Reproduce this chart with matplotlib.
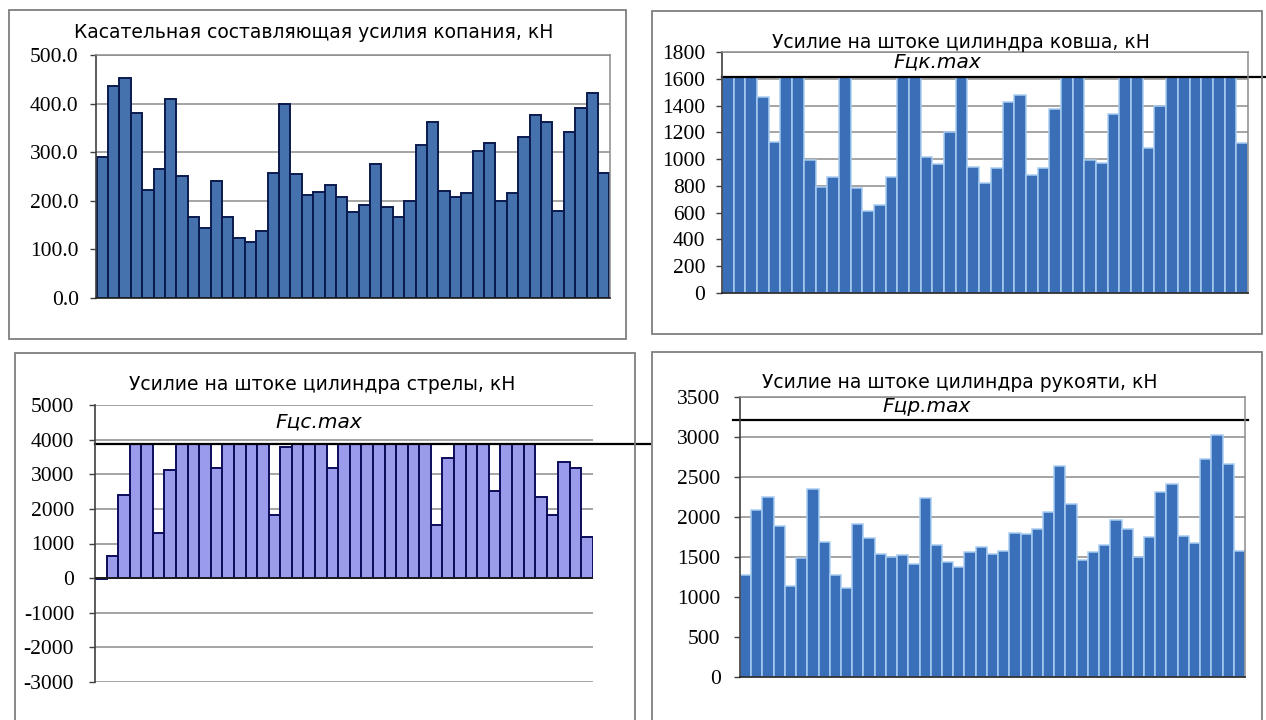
import numpy as np
import matplotlib
matplotlib.use('Agg')
import matplotlib.pyplot as plt
from matplotlib.patches import Rectangle
from matplotlib.ticker import FormatStrFormatter

plt.rcParams['axes.unicode_minus'] = False

W, H = 1266, 720

# Касательная составляющая усилия копания, кН
tangential = [290, 436, 452, 381, 223, 266, 409, 251, 166, 144, 240, 166, 124, 115, 138,
              258, 400, 256, 212, 218, 232, 207, 176, 191, 275, 187, 166, 199, 315, 363,
              220, 207, 216, 302, 318, 199, 216, 332, 376, 363, 179, 341, 390, 421, 258]

# Усилие на штоке цилиндра ковша, кН
bucket = [1610, 1610, 1610, 1465, 1130, 1610, 1610, 993, 794, 864, 1610, 787, 616, 658, 864,
          1610, 1610, 1018, 963, 1200, 1610, 943, 820, 931, 1428, 1478, 882, 931, 1373, 1610,
          1610, 993, 969, 1336, 1610, 1610, 1080, 1396, 1610, 1610, 1610, 1610, 1610, 1610, 1118]
bucket_max = 1610

# Усилие на штоке цилиндра стрелы, кН
boom = [-30, 625, 2400, 3870, 3870, 1300, 3125, 3870, 3870, 3870, 3190, 3870, 3870, 3870, 3870,
        1830, 3800, 3870, 3870, 3870, 3190, 3870, 3870, 3870, 3870, 3870, 3870, 3870, 3870, 1540,
        3480, 3870, 3870, 3870, 2530, 3870, 3870, 3870, 2355, 1830, 3340, 3175, 1200]
boom_max = 3870

# Усилие на штоке цилиндра рукояти, кН
stick = [1271, 2092, 2246, 1892, 1142, 1483, 2354, 1688, 1279, 1117, 1912, 1738, 1542, 1500, 1529,
         1417, 2233, 1654, 1442, 1375, 1562, 1629, 1537, 1571, 1800, 1787, 1850, 2058, 2633, 2162,
         1458, 1562, 1654, 1958, 1850, 1500, 1746, 2308, 2417, 1767, 1675, 2729, 3029, 2667, 1579]
stick_max = 3210

titles = ['Касательная составляющая усилия копания, кН',
          'Усилие на штоке цилиндра ковша, кН',
          'Усилие на штоке цилиндра стрелы, кН',
          'Усилие на штоке цилиндра рукояти, кН']

SANS = 'DejaVu Sans'
SERIF = 'Liberation Serif'
GRID = '#8c8c8c'
TITLE_FS = 13.5
FMAX_FS = 14.5

fig = plt.figure(figsize=(W / 100, H / 100), dpi=100)
fig.patch.set_facecolor('white')


def px_axes(l, t, r, b):
    return fig.add_axes([l / W, 1 - b / H, (r - l) / W, (b - t) / H])


def frame(l, t, r, b):
    fig.patches.append(Rectangle((l / W, 1 - b / H), (r - l) / W, (b - t) / H,
                                 transform=fig.transFigure, fill=False,
                                 edgecolor='#7f7f7f', linewidth=1.3))


def style(ax, ticks, fmt, pad, border=True):
    ax.set_yticks(ticks)
    ax.yaxis.set_major_formatter(FormatStrFormatter(fmt))
    ax.set_ylim(ticks[0], ticks[-1])
    ax.set_xticks([])
    ax.grid(axis='y', color=GRID, linewidth=1.1)
    ax.set_axisbelow(True)
    ax.tick_params(axis='y', direction='out', length=4, width=1, color='#404040', pad=pad)
    for lab in ax.get_yticklabels():
        lab.set_fontfamily(SERIF)
        lab.set_fontsize(15.5)
    ax.spines['left'].set_color('#404040')
    ax.spines['left'].set_linewidth(1.2)
    ax.spines['bottom'].set_color('#202020')
    ax.spines['bottom'].set_linewidth(1.2)
    for s in ['top', 'right']:
        ax.spines[s].set_color(GRID)
        ax.spines[s].set_linewidth(1.1)
        ax.spines[s].set_visible(border)


# panel frames
frame(9, 10, 626, 339)
frame(652, 11, 1262, 334)
frame(15, 353, 635, 730)
frame(652, 352, 1262, 730)

# 1 - tangential force
ax1 = px_axes(96, 55, 610, 298)
x1 = np.arange(1, len(tangential) + 1)
ax1.bar(x1, tangential, width=1.0, color='#4571ad', edgecolor='#0b1a4e', linewidth=1.4)
ax1.set_xlim(0.45, len(tangential) + 0.55)
style(ax1, [0, 100, 200, 300, 400, 500], '%.1f', 8.5)
fig.text(314 / W, 1 - 33 / H, titles[0], ha='center', va='center', fontsize=TITLE_FS, family=SANS)

# 2 - bucket cylinder
ax2 = px_axes(722, 52, 1248, 293)
x2 = np.arange(1, len(bucket) + 1)
ax2.bar(x2, bucket, width=1.0, color='#3a6fb8', edgecolor='#a9cdf2', linewidth=1.1)
ax2.set_xlim(0.5, len(bucket) + 0.5)
style(ax2, list(range(0, 1801, 200)), '%d', 8)
ax2.axhline(bucket_max, xmin=0, xmax=1.035, color='black', linewidth=1.6, clip_on=False)
ax2.text(0.41, 1725, 'Fцк.max', transform=ax2.get_yaxis_transform(), ha='center', va='center',
         fontsize=FMAX_FS, style='italic', family=SANS)
fig.text(961 / W, 1 - 42 / H, titles[1], ha='center', va='center', fontsize=TITLE_FS, family=SANS)

# 3 - boom cylinder
ax3 = px_axes(95, 405, 593, 682)
x3 = np.arange(1, len(boom) + 1)
ax3.bar(x3, boom, width=1.0, color='#9b9bec', edgecolor='#0c0c5a', linewidth=1.4)
ax3.set_xlim(0.5, len(boom) + 0.5)
style(ax3, list(range(-3000, 5001, 1000)), '%d', 11, border=False)
ax3.spines['bottom'].set_visible(False)
ax3.axhline(0, color='#202020', linewidth=1.3, zorder=3)
ax3.axhline(boom_max, xmin=0, xmax=1.115, color='black', linewidth=1.6, clip_on=False)
ax3.text(0.45, 4520, 'Fцс.max', transform=ax3.get_yaxis_transform(), ha='center', va='center',
         fontsize=FMAX_FS, style='italic', family=SANS)
fig.text(322 / W, 1 - 385 / H, titles[2], ha='center', va='center', fontsize=TITLE_FS, family=SANS)

# 4 - stick cylinder
ax4 = px_axes(740, 397, 1245, 677)
x4 = np.arange(1, len(stick) + 1)
ax4.bar(x4, stick, width=1.0, color='#3a70ba', edgecolor='#a9cdf2', linewidth=1.1)
ax4.set_xlim(0.5, len(stick) + 0.5)
style(ax4, list(range(0, 3501, 500)), '%d', 10)
ax4.axhline(stick_max, xmin=-0.014, xmax=1.006, color='black', linewidth=1.6, clip_on=False)
ax4.text(0.37, 3375, 'Fцр.max', transform=ax4.get_yaxis_transform(), ha='center', va='center',
         fontsize=FMAX_FS, style='italic', family=SANS)
fig.text(960 / W, 1 - 382 / H, titles[3], ha='center', va='center', fontsize=TITLE_FS, family=SANS)

fig.savefig('out.png', dpi=100)
